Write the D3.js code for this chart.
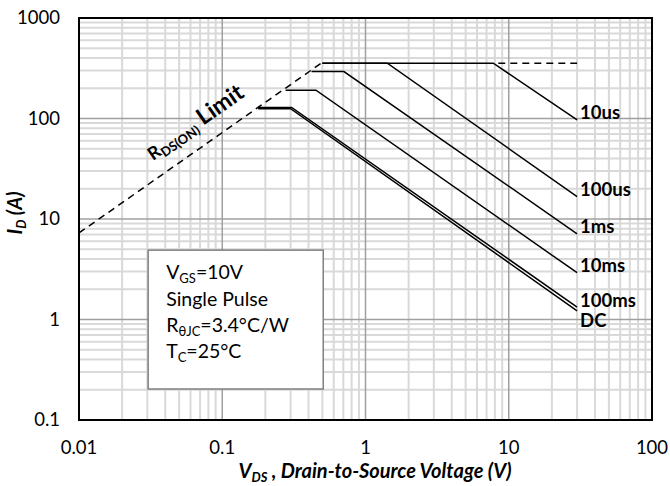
<!DOCTYPE html>
<html><head><meta charset="utf-8">
<script src="https://cdn.jsdelivr.net/npm/d3@7"></script>
<style>body{margin:0;background:#fff}svg{display:block}</style>
</head><body><svg id="c" width="670" height="486"></svg>
<script>
const xTicks = [0.01, 0.1, 1, 10, 100];
const yTicks = [0.1, 1, 10, 100, 1000];
const xTickLabels = ["0.01", "0.1", "1", "10", "100"];
const yTickLabels = ["0.1", "1", "10", "100", "1000"];
const curveNames = ["10us", "100us", "1ms", "10ms", "100ms", "DC"];
const curveV = [[0.5, 7.8, 30], [0.5, 1.42, 30], [0.42, 0.707, 30], [0.277, 0.451, 30], [0.178, 0.305, 30], [0.178, 0.30, 30]];
const curveI = [[355, 355, 97], [355, 355, 16.7], [293, 293, 7.13], [191, 191, 2.92], [129, 129, 1.33], [125, 125, 1.22]];
const limitV = [0.01, 0.49];
const limitI = [7.26, 355];
const extV = [7.8, 30];
const extI = [355, 355];
const infoLines = [["V", "GS", "=10V"], ["Single Pulse", "", ""], ["R", "θJC", "=3.4°C/W"], ["T", "C", "=25°C"]];

const svg = d3.select("#c");
const L = 79, R = 652, T = 18, B = 420;
const x = d3.scaleLog().domain([0.01, 100]).range([L, R]);
const y = d3.scaleLog().domain([0.1, 1000]).range([B, T]);
const font = "Lato, 'Open Sans', sans-serif";

// minor grid
const minorX = [], minorY = [];
for (let e = -2; e < 2; e++) for (let k = 2; k <= 9; k++) minorX.push(k * Math.pow(10, e));
for (let e = -1; e < 3; e++) for (let k = 2; k <= 9; k++) minorY.push(k * Math.pow(10, e));
const g = svg.append("g");
g.selectAll(".mx").data(minorX).join("line").attr("x1", d => x(d)).attr("x2", d => x(d)).attr("y1", T).attr("y2", B).attr("stroke", "#d9d9d9").attr("stroke-width", 2);
g.selectAll(".my").data(minorY).join("line").attr("y1", d => y(d)).attr("y2", d => y(d)).attr("x1", L).attr("x2", R).attr("stroke", "#d9d9d9").attr("stroke-width", 2);
g.selectAll(".Mx").data(xTicks).join("line").attr("x1", d => x(d)).attr("x2", d => x(d)).attr("y1", T).attr("y2", B).attr("stroke", "#a0a0a0").attr("stroke-width", 1.5);
g.selectAll(".My").data(yTicks).join("line").attr("y1", d => y(d)).attr("y2", d => y(d)).attr("x1", L).attr("x2", R).attr("stroke", "#a0a0a0").attr("stroke-width", 1.5);

// info box
const bx = x(0.0304), by = y(4.9), bw = x(0.507) - x(0.0304), bh = y(0.2035) - y(4.9);
svg.append("rect").attr("x", bx).attr("y", by).attr("width", bw).attr("height", bh).attr("fill", "#fff").attr("stroke", "#808080").attr("stroke-width", 1.5);
infoLines.forEach((ln, i) => {
  const t = svg.append("text").attr("x", bx + 18).attr("y", by + 29 + i * 26.4).attr("font-family", font).attr("font-size", 19.5).attr("fill", "#000");
  t.append("tspan").text(ln[0]);
  if (ln[1]) t.append("tspan").attr("dy", 4).attr("font-size", 13).text(ln[1]);
  if (ln[2]) t.append("tspan").attr("dy", ln[1] ? -4 : 0).text(ln[2]);
});

// lines
const line = d3.line().x(d => x(d[0])).y(d => y(d[1]));
svg.append("path").attr("d", line(d3.zip(limitV, limitI))).attr("fill", "none").attr("stroke", "#000").attr("stroke-width", 1.5).attr("stroke-dasharray", "7,5");
svg.append("path").attr("d", line(d3.zip(extV, extI))).attr("fill", "none").attr("stroke", "#000").attr("stroke-width", 1.5).attr("stroke-dasharray", "7,5").attr("stroke-dashoffset", -5);
curveNames.forEach((n, i) => {
  svg.append("path").attr("d", line(d3.zip(curveV[i], curveI[i]))).attr("fill", "none").attr("stroke", "#000").attr("stroke-width", 1.5);
  const ex = x(curveV[i][2]), ey = y(curveI[i][2]);
  svg.append("text").attr("x", ex + 3).attr("y", ey + (n === "DC" ? 10 : -7)).attr("dy", "0.35em").attr("font-family", font).attr("font-weight", "bold").attr("font-size", 18.5).text(n);
});

// border
svg.append("rect").attr("x", L).attr("y", T).attr("width", R - L).attr("height", B - T).attr("fill", "none").attr("stroke", "#000").attr("stroke-width", 2);

// tick labels
svg.selectAll(".xt").data(xTicks).join("text").attr("x", d => x(d)).attr("y", B + 34).attr("text-anchor", "middle").attr("font-family", font).attr("font-size", 18.5).text((d, i) => xTickLabels[i]);
svg.selectAll(".yt").data(yTicks).join("text").attr("x", L - 19).attr("y", d => y(d)).attr("dy", "0.35em").attr("text-anchor", "end").attr("font-family", font).attr("font-size", 18.5).text((d, i) => yTickLabels[i]);

// axis titles
const xt = svg.append("text").attr("x", 375).attr("y", 478).attr("text-anchor", "middle").attr("font-family", font).attr("font-size", 20).attr("font-weight", "bold").attr("font-style", "italic");
xt.append("tspan").text("V");
xt.append("tspan").attr("dy", 4).attr("font-size", 13).text("DS");
xt.append("tspan").attr("dy", -4).text(" , Drain-to-Source Voltage (V)");
const yt = svg.append("text").attr("transform", "translate(22,213) rotate(-90)").attr("text-anchor", "middle").attr("font-family", font).attr("font-size", 20).attr("font-weight", "bold").attr("font-style", "italic");
yt.append("tspan").text("I");
yt.append("tspan").attr("dy", 4).attr("font-size", 13).text("D");
yt.append("tspan").attr("dy", -4).text(" (A)");

// Rds(on) label
const rl = svg.append("text").attr("transform", `translate(${x(0.0328)},${y(37.8)}) rotate(-35)`).attr("font-family", font).attr("font-weight", "bold").attr("fill", "#000");
rl.append("tspan").attr("font-size", 18).text("R");
rl.append("tspan").attr("font-size", 13).attr("dy", 4).text("DS(ON)");
rl.append("tspan").attr("font-size", 23).attr("dy", -4).text(" Limit");
</script></body></html>
